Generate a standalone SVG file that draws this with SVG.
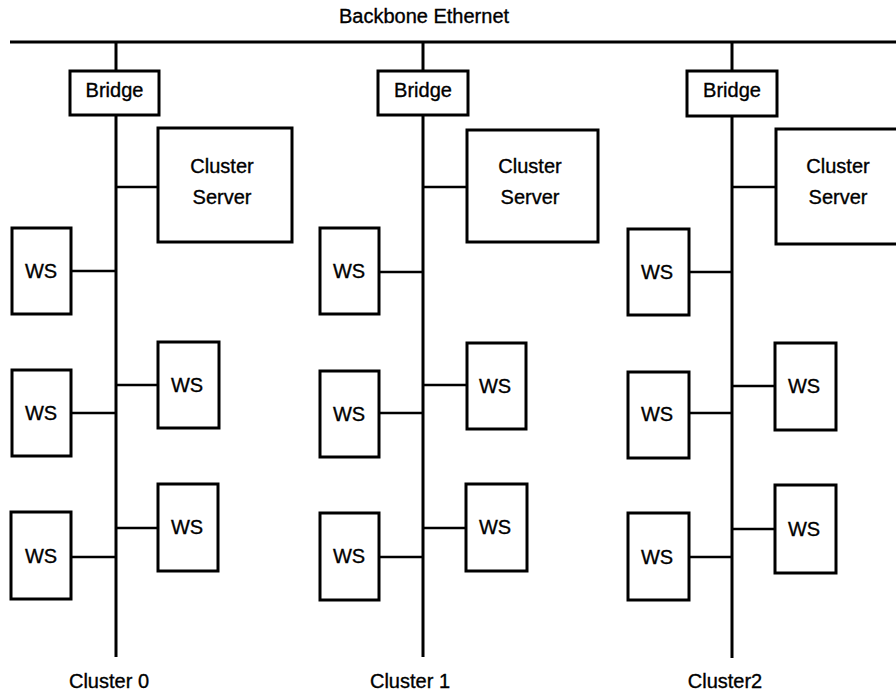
<svg xmlns="http://www.w3.org/2000/svg" width="896" height="692" viewBox="0 0 896 692">
<style>
.box{fill:#fff;stroke:#000;stroke-width:3}
.ln{stroke:#000;stroke-width:3;fill:none;stroke-linecap:butt}
.cn{stroke:#000;stroke-width:2.6;fill:none}
text{font-family:"Liberation Sans",Arial,sans-serif;font-size:20px;fill:#000;stroke:#000;stroke-width:0.35;text-anchor:middle}
</style>
<rect width="896" height="692" fill="#fff"/>
<text id="title" x="424" y="23">Backbone Ethernet</text>
<g id="connectors">
<line class="ln" x1="10" y1="42" x2="896" y2="42"/>
<!-- cluster 0 -->
<line class="ln" x1="116" y1="42" x2="116" y2="71"/>
<line class="ln" x1="116" y1="115" x2="116" y2="657"/>
<line class="cn" x1="116" y1="187" x2="158" y2="187"/>
<line class="cn" x1="71" y1="271" x2="116" y2="271"/>
<line class="cn" x1="116" y1="385" x2="158" y2="385"/>
<line class="cn" x1="71" y1="413" x2="116" y2="413"/>
<line class="cn" x1="116" y1="528" x2="158" y2="528"/>
<line class="cn" x1="71" y1="557" x2="116" y2="557"/>
<!-- cluster 1 -->
<line class="ln" x1="423" y1="42" x2="423" y2="71"/>
<line class="ln" x1="423" y1="115" x2="423" y2="657"/>
<line class="cn" x1="423" y1="187" x2="467" y2="187"/>
<line class="cn" x1="379" y1="272" x2="423" y2="272"/>
<line class="cn" x1="423" y1="385" x2="467" y2="385"/>
<line class="cn" x1="379" y1="413" x2="423" y2="413"/>
<line class="cn" x1="423" y1="528" x2="467" y2="528"/>
<line class="cn" x1="379" y1="557" x2="423" y2="557"/>
<!-- cluster 2 -->
<line class="ln" x1="732" y1="42" x2="732" y2="71"/>
<line class="ln" x1="732" y1="116" x2="732" y2="658"/>
<line class="cn" x1="732" y1="187" x2="776" y2="187"/>
<line class="cn" x1="689" y1="272" x2="732" y2="272"/>
<line class="cn" x1="732" y1="386" x2="775" y2="386"/>
<line class="cn" x1="689" y1="413" x2="732" y2="413"/>
<line class="cn" x1="732" y1="529" x2="775" y2="529"/>
<line class="cn" x1="689" y1="557" x2="732" y2="557"/>
</g>
<!-- Cluster 0 nodes -->
<g id="bridge0"><rect class="box" x="70" y="71" width="89" height="44"/><text x="114.5" y="97">Bridge</text></g>
<g id="server0"><rect class="box" x="158" y="128" width="134" height="114"/><text x="222" y="173">Cluster</text><text x="222" y="204">Server</text></g>
<g id="ws0a"><rect class="box" x="12" y="228" width="59" height="86"/><text x="41" y="278">WS</text></g>
<g id="ws0b"><rect class="box" x="158" y="342" width="61" height="86"/><text x="187" y="392">WS</text></g>
<g id="ws0c"><rect class="box" x="12" y="370" width="59" height="86"/><text x="41" y="420">WS</text></g>
<g id="ws0d"><rect class="box" x="158" y="484" width="60" height="87"/><text x="187" y="534">WS</text></g>
<g id="ws0e"><rect class="box" x="11" y="512" width="60" height="87"/><text x="41" y="563">WS</text></g>
<text id="label0" x="109" y="688">Cluster 0</text>
<!-- Cluster 1 nodes -->
<g id="bridge1"><rect class="box" x="378" y="71" width="90" height="44"/><text x="423" y="97">Bridge</text></g>
<g id="server1"><rect class="box" x="467" y="130" width="131" height="112"/><text x="530" y="173">Cluster</text><text x="530" y="204">Server</text></g>
<g id="ws1a"><rect class="box" x="320" y="228" width="59" height="86"/><text x="349" y="278">WS</text></g>
<g id="ws1b"><rect class="box" x="467" y="343" width="59" height="86"/><text x="495" y="393">WS</text></g>
<g id="ws1c"><rect class="box" x="320" y="371" width="59" height="86"/><text x="349" y="421">WS</text></g>
<g id="ws1d"><rect class="box" x="466" y="484" width="61" height="87"/><text x="495" y="534">WS</text></g>
<g id="ws1e"><rect class="box" x="320" y="513" width="59" height="87"/><text x="349" y="563">WS</text></g>
<text id="label1" x="410" y="688">Cluster 1</text>
<!-- Cluster 2 nodes -->
<g id="bridge2"><rect class="box" x="687" y="71" width="90" height="45"/><text x="732" y="97">Bridge</text></g>
<g id="server2"><rect class="box" x="776" y="129" width="130" height="115"/><text x="838" y="173">Cluster</text><text x="838" y="204">Server</text></g>
<g id="ws2a"><rect class="box" x="628" y="229" width="61" height="86"/><text x="657" y="279">WS</text></g>
<g id="ws2b"><rect class="box" x="775" y="343" width="61" height="87"/><text x="804" y="393">WS</text></g>
<g id="ws2c"><rect class="box" x="628" y="372" width="61" height="86"/><text x="657" y="421">WS</text></g>
<g id="ws2d"><rect class="box" x="775" y="485" width="61" height="88"/><text x="804" y="536">WS</text></g>
<g id="ws2e"><rect class="box" x="628" y="513" width="61" height="87"/><text x="657" y="564">WS</text></g>
<text id="label2" x="725" y="688">Cluster2</text>
</svg>
